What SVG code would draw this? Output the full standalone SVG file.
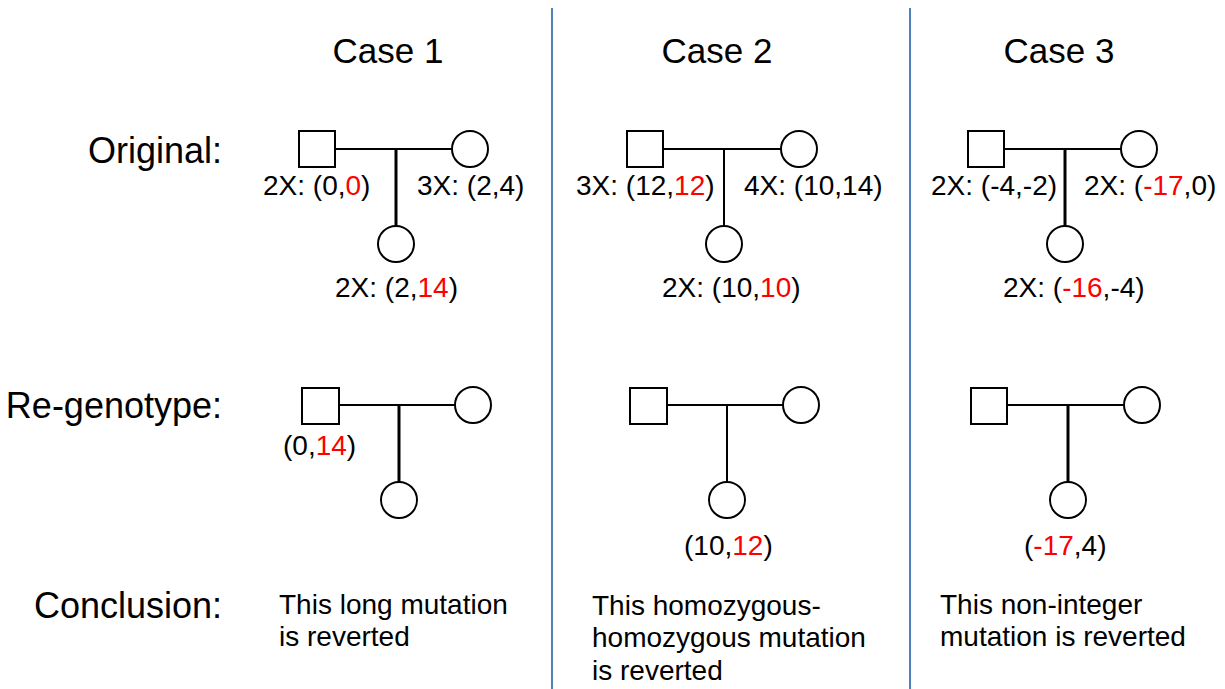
<svg xmlns="http://www.w3.org/2000/svg" width="1225" height="689" viewBox="0 0 1225 689">
<style>
text{font-family:"Liberation Sans",Arial,sans-serif;fill:#000}
.big{font-size:35px}
.row{font-size:36px}
.lab{font-size:28px}
.r{fill:#ff0000}
.sh{fill:#fff;stroke:#000;stroke-width:2}
.ln{stroke:#000;stroke-width:2;fill:none}
.thick{stroke-width:3}
.sep{stroke:#4f81bd;stroke-width:2}
</style>
<rect width="1225" height="689" fill="#fff"/>
<g id="separators">
<line class="sep" x1="552" y1="8" x2="552" y2="689"/>
<line class="sep" x1="910" y1="8" x2="910" y2="689"/>
</g>
<g id="headers">
<text class="big" x="388" y="63" text-anchor="middle">Case 1</text>
<text class="big" x="717" y="63" text-anchor="middle">Case 2</text>
<text class="big" x="1059" y="63" text-anchor="middle">Case 3</text>
<text class="row" x="222" y="163" text-anchor="end">Original:</text>
<text class="row" x="222" y="418" text-anchor="end">Re-genotype:</text>
<text class="row" x="222" y="618" text-anchor="end">Conclusion:</text>
</g>
<g id="connectors">
<line class="ln" x1="335" y1="149" x2="452" y2="149"/>
<line class="ln thick" x1="396" y1="149" x2="396" y2="226"/>
<line class="ln" x1="663" y1="149" x2="781" y2="149"/>
<line class="ln" x1="724" y1="149" x2="724" y2="226"/>
<line class="ln" x1="1004" y1="149" x2="1121" y2="149"/>
<line class="ln thick" x1="1065" y1="149" x2="1065" y2="226"/>
<line class="ln" x1="339" y1="405" x2="455" y2="405"/>
<line class="ln thick" x1="399" y1="405" x2="399" y2="482"/>
<line class="ln" x1="667" y1="405" x2="783" y2="405"/>
<line class="ln" x1="727" y1="405" x2="727" y2="482"/>
<line class="ln" x1="1007" y1="405" x2="1124" y2="405"/>
<line class="ln thick" x1="1068" y1="405" x2="1068" y2="482"/>
</g>
<g id="c1-father"><rect class="sh" x="299" y="131" width="36" height="36"/><text class="lab" x="263" y="195">2X: (0,<tspan class="r">0</tspan>)</text></g>
<g id="c1-mother"><circle class="sh" cx="470" cy="149" r="18"/><text class="lab" x="417" y="195">3X: (2,4)</text></g>
<g id="c1-child"><circle class="sh" cx="396" cy="244" r="18"/><text class="lab" x="335" y="297">2X: (2,<tspan class="r">14</tspan>)</text></g>
<g id="c2-father"><rect class="sh" x="627" y="131" width="36" height="36"/><text class="lab" x="576" y="195">3X: (12,<tspan class="r">12</tspan>)</text></g>
<g id="c2-mother"><circle class="sh" cx="799" cy="149" r="18"/><text class="lab" x="744" y="195">4X: (10,14)</text></g>
<g id="c2-child"><circle class="sh" cx="724" cy="244" r="18"/><text class="lab" x="662" y="297">2X: (10,<tspan class="r">10</tspan>)</text></g>
<g id="c3-father"><rect class="sh" x="968" y="131" width="36" height="36"/><text class="lab" x="931" y="195">2X: (-4,-2)</text></g>
<g id="c3-mother"><circle class="sh" cx="1139" cy="149" r="18"/><text class="lab" x="1084" y="195">2X: (<tspan class="r">-17</tspan>,0)</text></g>
<g id="c3-child"><circle class="sh" cx="1065" cy="244" r="18"/><text class="lab" x="1003" y="297">2X: (<tspan class="r">-16</tspan>,-4)</text></g>
<g id="r1-father"><rect class="sh" x="302" y="388" width="37" height="36"/><text class="lab" x="283" y="455">(0,<tspan class="r">14</tspan>)</text></g>
<g id="r1-mother"><circle class="sh" cx="473" cy="405" r="18"/></g>
<g id="r1-child"><circle class="sh" cx="399" cy="500" r="18"/></g>
<g id="r2-father"><rect class="sh" x="630" y="388" width="37" height="36"/></g>
<g id="r2-mother"><circle class="sh" cx="801" cy="405" r="18"/></g>
<g id="r2-child"><circle class="sh" cx="727" cy="500" r="18"/><text class="lab" x="684" y="555">(10,<tspan class="r">12</tspan>)</text></g>
<g id="r3-father"><rect class="sh" x="971" y="388" width="36" height="36"/></g>
<g id="r3-mother"><circle class="sh" cx="1142" cy="405" r="18"/></g>
<g id="r3-child"><circle class="sh" cx="1068" cy="500" r="18"/><text class="lab" x="1024" y="555">(<tspan class="r">-17</tspan>,4)</text></g>
<g id="conclusions">
<text class="lab" x="279" y="614">This long mutation</text>
<text class="lab" x="279" y="646">is reverted</text>
<text class="lab" x="592" y="615">This homozygous-</text>
<text class="lab" x="592" y="647">homozygous mutation</text>
<text class="lab" x="592" y="680">is reverted</text>
<text class="lab" x="940" y="614">This non-integer</text>
<text class="lab" x="940" y="646">mutation is reverted</text>
</g>
</svg>
